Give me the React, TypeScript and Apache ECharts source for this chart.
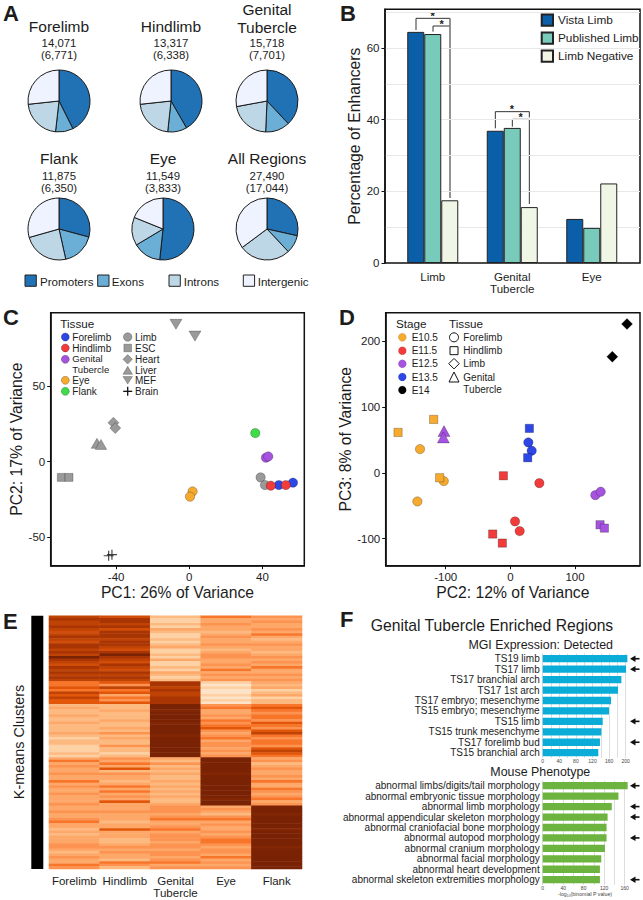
import React, { useEffect, useRef } from "react";
import * as echarts from "echarts";

const FONT = "'Liberation Sans', Arial, sans-serif";
const INK = "#1c1c1c";

// Panel A
const regionNames = ["Promoters", "Exons", "Introns", "Intergenic"];
const regionColors = ["#2171b5", "#6baed6", "#bdd7e7", "#eff3ff"];
const pieForelimb = [42.6, 9.2, 21.5, 26.7];
const pieHindlimb = [41.7, 10, 21.6, 26.7];
const pieGenital = [38, 12.7, 21.4, 27.9];
const pieFlank = [29.2, 17.3, 24.1, 29.4];
const pieEye = [51.7, 14.7, 14.7, 18.9];
const pieAll = [28.5, 9.5, 26.8, 35.2];

// Panel B
const enhancerCategories = ["Limb", "Genital\nTubercle", "Eye"];
const vistaLimb = [64.5, 36.9, 12.3];
const publishedLimb = [63.9, 37.7, 9.8];
const limbNegative = [17.5, 15.6, 22.2];

// Panel C
const cForelimb = [[56.7, -13.9], [49, -15.5]];
const cHindlimb = [[44.6, -15.9], [52.8, -15.5]];
const cGenital = [[41.9, 2.7], [43.2, 3.5]];
const cEye = [[1.8, -19.7], [0.4, -23.2]];
const cFlank = [[36.1, 19]];
const cLimb = [[39, -10.4], [41.4, -15.5]];
const cEsc = [[-70, -10.4], [-65.8, -10.4]];
const cHeart = [[-41.5, 25.9], [-40.5, 22.3]];
const cLiver = [[-50.5, 12.2], [-48.3, 11.5]];
const cMef = [[-7.3, 91.2], [3.1, 83.4]];
const cBrain = [[-44.1, -62.4], [-42.3, -61.7]];

// Panel D
const dE105Forelimb = [[-139.7, 35.9], [-103, -12.6], [-143.8, -43.5]];
const dE105Hindlimb = [[-118.6, 80.9], [-173.7, 61.2], [-109.3, -7.6]];
const dE115Forelimb = [[44.8, -15.7], [7.2, -73.8], [14.4, -88.5]];
const dE115Hindlimb = [[-10.8, -4.6], [-27.3, -93], [-12.4, -106.7]];
const dE125Genital = [[-102.6, 63.2], [-103.6, 53.6]];
const dE125Forelimb = [[131.4, -33.9], [139.7, -28.8]];
const dE125Hindlimb = [[138.7, -78.9], [145.4, -84]];
const dE135Forelimb = [[27.8, 46], [33, 33.4]];
const dE135Hindlimb = [[29.4, 67.3], [26.8, 22.8]];
const dE14Limb = [[180.4, 225.6], [157.7, 176]];

// Panel E: colour level of each stripe, one list per tissue column, read top to bottom
const heatColumns = ["Forelimb", "Hindlimb", "Genital\nTubercle", "Eye", "Flank"];
const heatForelimb = [
  8, 9, 8, 8, 9, 8, 7.5, 8, 9, 8, 7.5, 9, 9, 8, 9, 8, 10, 9, 8, 7.5, 9, 8, 9, 8, 9, 8,
  6, 6, 7, 6, 8, 7, 8, 7, 7,
  3, 4, 3, 3, 4, 3, 3, 4, 3, 3, 3, 4, 3, 2, 3, 3, 2, 2, 2, 3, 2,
  4, 6, 4, 5, 4, 4, 5, 4, 4, 6, 4, 5, 4, 4, 5, 4, 4, 4, 5,
  4, 4, 5, 4, 4, 5, 6, 4, 4, 3, 4, 3, 4, 4, 4, 5, 5, 4, 3, 4, 5, 4, 4, 6, 5,
];
const heatHindlimb = [
  7.5, 9, 9, 8, 9, 7.5, 9, 9, 9, 8, 9, 9, 8, 7.5, 9, 10, 9, 8, 7.5, 9, 8, 7.5, 9, 8, 9, 8,
  7, 5, 8, 6, 7, 4, 6, 5, 7,
  3, 3, 4, 3, 3, 3, 4, 3, 3, 4, 3, 5, 3, 4, 3, 3, 5, 3, 3, 2, 3,
  5, 4, 6, 4, 7, 3, 5, 4, 4, 3, 4, 6, 4, 6, 4, 5, 4, 7, 4,
  4, 4, 5, 4, 4, 4, 3, 4, 4, 7, 4, 4, 4, 3, 3, 4, 5, 4, 5, 4, 4, 3, 6, 5, 3,
];
const heatGenital = [
  3, 2, 2, 3, 2, 4, 3, 2, 2, 3, 2, 3, 4, 2, 2, 3, 2, 4, 2, 2, 3, 2, 4, 3, 2, 3,
  9, 9, 8, 9, 8, 8, 9, 9, 9,
  10, 10, 9.8, 10, 10, 10, 10, 9.8, 10, 10, 10, 10, 9.8, 10, 10, 10, 10, 10, 10, 10, 10,
  4, 3, 5, 3, 4, 3, 4, 3, 3, 4, 3, 4, 3, 4, 3, 4, 3, 3, 4,
  5, 5, 5, 4, 5, 6, 4, 4, 5, 6, 4, 5, 5, 5, 4, 5, 5, 4, 5, 5, 4, 5, 6, 4, 5,
];
const heatEye = [
  6, 4, 4, 5, 4, 4, 3, 4, 5, 4, 4, 5, 4, 3, 4, 5, 5, 4, 4, 5, 4, 6, 4, 5, 4, 5,
  2, 1, 2, 1, 1, 2, 1, 2, 1,
  5, 6, 4, 4, 5, 4, 6, 5, 6, 7, 5, 4, 5, 6, 4, 5, 5, 4, 5, 4, 5,
  10, 10, 10, 10, 10, 10, 9.8, 10, 10, 10, 10, 10, 10, 10, 10, 10, 9.8, 10, 10,
  4, 5, 4, 3, 5, 6, 4, 5, 4, 4, 5, 4, 5, 6, 6, 5, 4, 5, 5, 4, 6, 4, 5, 4, 5,
];
const heatFlank = [
  5, 4, 5, 4, 4, 5, 4, 6, 4, 3, 4, 5, 4, 4, 3, 4, 5, 4, 5, 4, 6, 4, 4, 5, 4, 5,
  4, 3, 4, 2, 3, 4, 2, 3, 3,
  6, 7, 6, 5, 6, 6, 5, 7, 6, 5, 7, 8, 6, 5, 6, 6, 5, 7, 8, 7, 6,
  4, 5, 3, 4, 5, 4, 4, 5, 4, 6, 4, 4, 6, 5, 4, 5, 6, 4, 5,
  10, 10, 10, 9.8, 10, 10, 10, 10, 10, 9.8, 10, 10, 10, 10, 10, 10, 9.8, 10, 10, 10, 10, 10, 10, 10, 10,
];
const heatLevelColors = ["#fee3c8", "#fdd1a3", "#fdba80", "#fda768", "#fd9350", "#f8762a", "#e2560a", "#c04306", "#a83503", "#7a2204"];

// Panel F
const mgiTerms = [
  "TS19 limb", "TS17 limb", "TS17 branchial arch", "TS17 1st arch", "TS17 embryo; mesenchyme",
  "TS15 embryo; mesenchyme", "TS15 limb", "TS15 trunk mesenchyme", "TS17 forelimb bud", "TS15 branchial arch",
];
const mgiValues = [204, 200.8, 189.6, 181.5, 164.7, 159.8, 144.6, 141.4, 138, 134];
const mgiArrowRows = [0, 1, 6, 8];
const phenotypeTerms = [
  "abnormal limbs/digits/tail morphology", "abnormal embryonic tissue morphology", "abnormal limb morphology",
  "abnormal appendicular skeleton morphology", "abnormal craniofacial bone morphology", "abnormal autopod morphology",
  "abnormal cranium morphology", "abnormal facial morphology", "abnormal heart development",
  "abnormal skeleton extremities morphology",
];
const phenotypeValues = [166, 148, 135, 126.8, 124.8, 124.8, 121.6, 114.4, 111.8, 111.8];
const phenotypeArrowRows = [0, 2, 3, 5, 9];

const GRAY = "#9a9a9a";
const BLUE = "#2d46e6";
const RED = "#f23b3b";
const PURPLE = "#a653e0";
const ORANGE = "#f7ab2e";
const GREEN = "#3fdc4a";
const EDGE = "rgba(0,0,0,0.35)";
const PLUS = "path://M5.3 0h1.4v5.3H12v1.4H6.7V12H5.3V6.7H0V5.3h5.3z";

function txt(x: number, y: number, text: string, fontSize: number, align = "left", fontWeight = "normal", rotation = 0) {
  return {
    type: "text", x, y, rotation,
    style: {
      text, fontSize, fontFamily: FONT, fontWeight, fill: INK, align, verticalAlign: "middle", textAlign: align, textVerticalAlign: "middle",
    },
  };
}

function sym(kind: string, x: number, y: number, s: number, fill: string, stroke = EDGE, lineWidth = 0.7, h = s) {
  const style = { fill, stroke, lineWidth };
  if (kind === "circle") return { type: "circle", shape: { cx: x, cy: y, r: s / 2 }, style };
  if (kind === "rect") return { type: "rect", shape: { x: x - s / 2, y: y - s / 2, width: s, height: s }, style };
  if (kind === "diamond") return { type: "polygon", shape: { points: [[x, y - s / 2], [x + s / 2, y], [x, y + s / 2], [x - s / 2, y]] }, style };
  if (kind === "triangle") return { type: "polygon", shape: { points: [[x, y - h / 2], [x + s / 2, y + h / 2], [x - s / 2, y + h / 2]] }, style };
  if (kind === "down") return { type: "polygon", shape: { points: [[x, y + h / 2], [x + s / 2, y - h / 2], [x - s / 2, y - h / 2]] }, style };
  return {
    type: "group",
    children: [
      { type: "line", shape: { x1: x - s / 2, y1: y, x2: x + s / 2, y2: y }, style: { stroke: "#111", lineWidth: 1.3 } },
      { type: "line", shape: { x1: x, y1: y - s / 2, x2: x, y2: y + s / 2 }, style: { stroke: "#111", lineWidth: 1.3 } },
    ],
  };
}

function poly(points: number[][], stroke = "#333", lineWidth = 1) {
  return { type: "polyline", shape: { points }, style: { stroke, lineWidth, fill: "none" } };
}

function arrow(yc: number) {
  return [
    { type: "line", shape: { x1: 633, y1: yc, x2: 639.5, y2: yc }, style: { stroke: "#111", lineWidth: 1.6 } },
    { type: "polygon", shape: { points: [[630, yc], [635.5, yc - 3.2], [635.5, yc + 3.2]] }, style: { fill: "#111" } },
  ];
}

function buildGraphics() {
  const e: any[] = [];
  // panel letters
  [["A", 3, 13], ["B", 340, 13], ["C", 3, 317], ["D", 339, 317], ["E", 3, 621], ["F", 340, 619]].forEach(([t, x, y]) => {
    e.push(txt(x as number, y as number, t as string, 22, "left", "bold"));
  });
  // panel A texts; the two-line title is held apart by just its own height
  const titles: [string, number, number, string, string][] = [
    ["Forelimb", 59, 26, "14,071", "(6,771)"],
    ["Hindlimb", 171, 26, "13,317", "(6,338)"],
    ["Tubercle", 267, 27.4, "15,718", "(7,701)"],
    ["Flank", 59, 158.7, "11,875", "(6,350)"],
    ["Eye", 163, 158.7, "11,549", "(3,833)"],
    ["All Regions", 267, 158.7, "27,490", "(17,044)"],
  ];
  e.push(txt(267, 9.8, "Genital", 15.5, "center"));
  titles.forEach(([t, x, y, a, b]) => {
    e.push(txt(x, y, t, 15.5, "center"));
    const base = y > 100 ? 158.7 : 26;
    e.push(txt(x, base + 16.9, a, 11.4, "center"));
    e.push(txt(x, base + 28.9, b, 11.4, "center"));
  });
  [[25, 40], [97.7, 111.7], [169, 183.7], [243.3, 257.7]].forEach(([sx, tx], i) => {
    e.push({ type: "rect", shape: { x: sx, y: 275, width: 11.3, height: 11.3 }, style: { fill: regionColors[i], stroke: "#222", lineWidth: 1 } });
    e.push(txt(tx, 281, regionNames[i], 11.6));
  });
  // panel B brackets
  const bx = (z: number) => 330 + z / 3;
  const by = (z: number) => z / 3;
  const br = (pts: number[][], c = "#333", w = 1) => poly(pts.map(([a, b]) => [bx(a), by(b)]), c, w);
  e.push(br([[258, 90], [258, 55], [360, 55]]));
  e.push(br([[309, 95], [309, 78], [360, 78]]));
  e.push(br([[360, 55], [360, 594]], "#777", 1.6));
  e.push(txt(bx(308), by(48), "*", 11, "center", "bold"));
  e.push(txt(bx(335), by(71), "*", 11, "center", "bold"));
  e.push(br([[496, 385], [496, 335], [598, 335], [598, 352]]));
  e.push(br([[547, 380], [547, 358], [598, 358], [598, 612]]));
  e.push(txt(bx(546), by(328), "*", 11, "center", "bold"));
  e.push(txt(bx(572), by(352), "*", 11, "center", "bold"));
  // panel C legend
  const cy = (z: number) => 300 + z / 3;
  e.push(txt(60.3, cy(70), "Tissue", 11.7));
  ([["Forelimb", 111, BLUE], ["Hindlimb", 144, RED], ["Eye", 241, ORANGE], ["Flank", 274, GREEN]] as [string, number, string][]).forEach(([t, y, c]) => {
    e.push(sym("circle", 65.3, cy(y), 8, c));
    e.push(txt(72.3, cy(y), t, 10));
  });
  e.push(sym("circle", 65.3, cy(178), 8, PURPLE));
  e.push(txt(72.3, cy(175), "Genital", 9.6));
  e.push(txt(72.3, cy(207), "Tubercle", 9.6));
  ([["Limb", 111, "circle", 8.5, 8.5], ["ESC", 144, "rect", 7.6, 7.6], ["Heart", 178, "diamond", 9.5, 9.5], ["Liver", 211, "triangle", 9.5, 8], ["MEF", 241, "down", 9.5, 7.5], ["Brain", 274, "plus", 9, 9]] as [string, number, string, number, number][]).forEach(([t, y, k, s, h]) => {
    e.push(sym(k, 127.7, cy(y), s, GRAY, EDGE, 0.7, h));
    e.push(txt(135, cy(y), t, 10));
  });
  // panel D legend
  const dx = (z: number) => 330 + z / 3;
  e.push(txt(dx(198), cy(70), "Stage", 11.7));
  e.push(txt(dx(357), cy(70), "Tissue", 11.7));
  ([["E10.5", 112, ORANGE], ["E11.5", 152, RED], ["E12.5", 191, PURPLE], ["E13.5", 231, BLUE], ["E14", 270, "#000"]] as [string, number, string][]).forEach(([t, y, c]) => {
    e.push(sym("circle", dx(217), cy(y), 8, c, "rgba(0,0,0,0.15)"));
    e.push(txt(dx(245), cy(y), t, 10));
  });
  ([["Forelimb", 112, "circle", 9], ["Hindlimb", 152, "rect", 8], ["Limb", 191, "diamond", 10.5], ["Genital", 231, "triangle", 10]] as [string, number, string, number][]).forEach(([t, y, k, s]) => {
    e.push(sym(k, dx(372), cy(y), s, "#fff", "#111", 1));
    e.push(txt(dx(400), cy(y), t, 10));
  });
  e.push(txt(dx(400), cy(267), "Tubercle", 10));
  // panel E side bar
  e.push({ type: "rect", shape: { x: 31.3, y: 615.7, width: 12, height: 253.3 }, style: { fill: "#000" } });
  e.push(txt(19.3, 742, "K-means Clusters", 14.4, "center", "normal", Math.PI / 2));
  // panel F
  e.push(txt(492, 625, "Genital Tubercle Enriched Regions", 15.7, "center"));
  e.push(txt(540.7, 645, "MGI Expression: Detected", 12.4, "center"));
  e.push(txt(540.3, 772, "Mouse Phenotype", 12.4, "center"));
  const logLabel = txt(585, 893.7, "-log₁₀(binomial P value)", 5.2, "center");
  logLabel.style.fill = "#444";
  e.push(logLabel);
  mgiArrowRows.forEach((r) => e.push(...arrow(653.5 + 10.44 * (r + 0.5))));
  phenotypeArrowRows.forEach((r) => e.push(...arrow(780.5 + 10.44 * (r + 0.5))));
  return e;
}

function frameAxis(gridIndex: number, min: number, max: number, ticks: number[], name: string, nameGap: number) {
  return {
    gridIndex, type: "value", min, max, name, nameGap, nameLocation: "middle",
    nameTextStyle: { fontSize: 15.7, color: INK, fontFamily: FONT },
    axisLine: { show: true, onZero: false, lineStyle: { color: "#111", width: 1.5 } },
    axisTick: { show: true, length: 3.5, customValues: ticks, lineStyle: { color: "#111", width: 1 } },
    axisLabel: { customValues: ticks, fontSize: 11.5, color: INK, margin: 5.5, fontFamily: FONT },
    splitLine: { show: false },
  };
}

function termAxis(gridIndex: number, terms: string[]) {
  return {
    gridIndex, type: "category", data: terms, inverse: true,
    axisLine: { show: false }, axisTick: { show: false },
    axisLabel: { fontSize: 10, color: INK, margin: 3, fontFamily: FONT, interval: 0 },
  };
}

function scaleAxis(gridIndex: number, max: number) {
  return {
    gridIndex, type: "value", min: 0, max, interval: 20,
    axisLine: { show: false }, axisTick: { show: false },
    axisLabel: {
      fontSize: 5, color: "#444", margin: 1, fontFamily: FONT, showMinLabel: true, hideOverlap: false,
      formatter: (v: number) => (v % 40 === 0 ? String(v) : ""),
    },
    splitLine: { show: true, showMaxLine: false, lineStyle: { color: "#d4d4d4", width: 0.8 } },
  };
}

function pieSeries(values: number[], cx: number, cy: number) {
  return {
    type: "pie", center: [cx, cy], radius: [0, 31], startAngle: 90, clockwise: true, silent: true,
    label: { show: false }, labelLine: { show: false },
    itemStyle: { borderColor: "#1a1a1a", borderWidth: 1 },
    data: values.map((v, i) => ({ name: regionNames[i], value: v, itemStyle: { color: regionColors[i] } })),
  };
}

function dots(name: string, xAxisIndex: number, yAxisIndex: number, data: number[][], color: string, symbol = "circle", symbolSize: number | number[] = 9.3, symbolRotate = 0) {
  return {
    type: "scatter", name, xAxisIndex, yAxisIndex, data, symbol, symbolSize, symbolRotate, silent: true,
    itemStyle: { color, borderColor: EDGE, borderWidth: 0.7, opacity: 1 },
  };
}

function bar(name: string, data: number[], color: string) {
  return {
    type: "bar", name, data, xAxisIndex: 1, yAxisIndex: 2, barWidth: 17, barGap: "0%", silent: true,
    itemStyle: { color, borderColor: "#222", borderWidth: 1 },
  };
}

function heatData() {
  const cols = [heatForelimb, heatHindlimb, heatGenital, heatEye, heatFlank];
  const out: number[][] = [];
  cols.forEach((col, c) => col.forEach((v, r) => out.push([c, r, v])));
  return out;
}

function buildOption() {
  const border = { show: true, borderColor: "#111", borderWidth: 1.5 };
  const rowNames = heatForelimb.map((_, i) => String(i));
  const series: any[] = [
    pieSeries(pieForelimb, 59, 101),
    pieSeries(pieHindlimb, 171, 101),
    pieSeries(pieGenital, 267, 101),
    pieSeries(pieFlank, 59, 229),
    pieSeries(pieEye, 163, 229),
    pieSeries(pieAll, 267, 229),
    bar("Vista Limb", vistaLimb, "#0a5fa8"),
    bar("Published Limb", publishedLimb, "#78cabb"),
    bar("Limb Negative", limbNegative, "#eff6e6"),
    dots("Limb", 2, 3, cLimb, GRAY),
    dots("ESC", 2, 3, cEsc, GRAY, "rect", 8),
    dots("Heart", 2, 3, cHeart, GRAY, "diamond", 11),
    dots("Liver", 2, 3, cLiver, GRAY, "triangle", [11.5, 10]),
    dots("MEF", 2, 3, cMef, GRAY, "triangle", [12, 10], 180),
    { ...dots("Brain", 2, 3, cBrain, "#111", PLUS, 10), itemStyle: { color: "#111" } },
    dots("Forelimb", 2, 3, cForelimb, BLUE),
    dots("Hindlimb", 2, 3, cHindlimb, RED),
    dots("Genital Tubercle", 2, 3, cGenital, PURPLE),
    dots("Eye", 2, 3, cEye, ORANGE),
    dots("Flank", 2, 3, cFlank, GREEN),
    dots("E10.5 Forelimb", 3, 4, dE105Forelimb, ORANGE),
    dots("E10.5 Hindlimb", 3, 4, dE105Hindlimb, ORANGE, "rect", 8.3),
    dots("E11.5 Forelimb", 3, 4, dE115Forelimb, RED),
    dots("E11.5 Hindlimb", 3, 4, dE115Hindlimb, RED, "rect", 8.3),
    dots("E12.5 Genital Tubercle", 3, 4, dE125Genital, PURPLE, "triangle", [12, 11]),
    dots("E12.5 Forelimb", 3, 4, dE125Forelimb, PURPLE),
    dots("E12.5 Hindlimb", 3, 4, dE125Hindlimb, PURPLE, "rect", 8.3),
    dots("E13.5 Forelimb", 3, 4, dE135Forelimb, BLUE),
    dots("E13.5 Hindlimb", 3, 4, dE135Hindlimb, BLUE, "rect", 8.3),
    dots("E14 Limb", 3, 4, dE14Limb, "#000", "diamond", 11),
    { type: "heatmap", name: "Clusters", xAxisIndex: 4, yAxisIndex: 5, data: heatData(), silent: true },
    {
      type: "bar", name: "MGI", xAxisIndex: 5, yAxisIndex: 6, data: mgiValues, barWidth: 7.3, silent: true,
      itemStyle: { color: "#0badd8" },
    },
    {
      type: "bar", name: "Phenotype", xAxisIndex: 6, yAxisIndex: 7, data: phenotypeValues, barWidth: 7.3, silent: true,
      itemStyle: { color: "#6cb33f" },
    },
  ];
  const heatIndex = series.findIndex((s) => s.type === "heatmap");
  return {
    animation: false,
    backgroundColor: "#fff",
    textStyle: { fontFamily: FONT, color: INK },
    grid: [
      { left: 385, top: 9.3, width: 255, height: 253.7, ...border },
      { left: 393, top: 9.3, width: 238.5, height: 253.7 },
      { left: 50.7, top: 312.7, width: 253.6, height: 253, ...border },
      { left: 385.7, top: 312.7, width: 254.3, height: 253, ...border },
      { left: 49, top: 615.7, width: 253, height: 253.3 },
      { left: 542.7, top: 653.5, width: 87.15, height: 104.4 },
      { left: 542.7, top: 780.5, width: 87, height: 104.4 },
    ],
    xAxis: [
      { gridIndex: 0, type: "value", min: 0, max: 1, show: false },
      {
        gridIndex: 1, type: "category", data: enhancerCategories,
        axisLine: { show: false }, axisTick: { show: false },
        axisLabel: { fontSize: 11.5, color: INK, margin: 8, lineHeight: 12, fontFamily: FONT },
      },
      frameAxis(2, -75.8, 62.9, [-40, 0, 40], "PC1: 26% of Variance", 17.5),
      frameAxis(3, -192.8, 200.5, [-100, 0, 100], "PC2: 12% of Variance", 17.5),
      {
        gridIndex: 4, type: "category", data: heatColumns,
        axisLine: { show: false }, axisTick: { show: false },
        axisLabel: { fontSize: 11.5, color: INK, margin: 6, lineHeight: 12, fontFamily: FONT, interval: 0 },
      },
      scaleAxis(5, 210),
      scaleAxis(6, 170),
    ],
    yAxis: [
      {
        gridIndex: 0, type: "value", min: 0, max: 70.8, interval: 10, position: "left",
        axisLine: { show: false }, axisTick: { show: false }, axisLabel: { show: false },
        splitLine: { show: true, showMinLine: false, showMaxLine: false, lineStyle: { color: "#e8e8e8", width: 1 } },
      },
      { ...frameAxis(0, 0, 70.8, [0, 20, 40, 60], "Percentage of Enhancers", 21), position: "left" },
      { gridIndex: 1, type: "value", min: 0, max: 70.8, show: false },
      frameAxis(2, -69, 98.9, [-50, 0, 50], "PC2: 17% of Variance", 23.7),
      frameAxis(3, -141, 242.8, [-100, 0, 100, 200], "PC3: 8% of Variance", 25.7),
      { gridIndex: 4, type: "category", data: rowNames, inverse: true, show: false },
      termAxis(5, mgiTerms),
      termAxis(6, phenotypeTerms),
    ],
    legend: {
      data: ["Vista Limb", "Published Limb", "Limb Negative"],
      orient: "vertical", left: 540.7, top: 13.5, itemWidth: 11.3, itemHeight: 11.3, itemGap: 4.7,
      selectedMode: false, padding: 0, icon: "rect",
      textStyle: { fontSize: 11.8, color: INK, fontFamily: FONT },
    },
    visualMap: {
      show: false, type: "continuous", seriesIndex: heatIndex, dimension: 2, min: 1, max: 10,
      inRange: { color: heatLevelColors },
    },
    series,
    graphic: { elements: buildGraphics() },
  };
}

export default function App() {
  const ref = useRef<HTMLDivElement>(null);
  useEffect(() => {
    document.body.style.margin = "0";
    document.body.style.background = "#fff";
    const chart = echarts.init(ref.current as HTMLDivElement, undefined, { renderer: "svg" });
    chart.setOption(buildOption() as any);
    return () => chart.dispose();
  }, []);
  return <div ref={ref} style={{ width: 643, height: 900 }} />;
}
